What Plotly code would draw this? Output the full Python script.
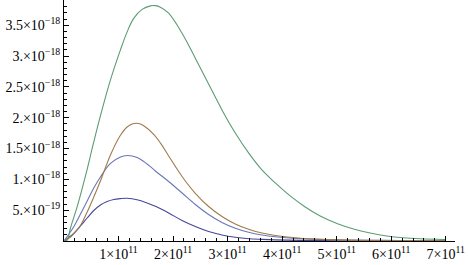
import numpy as np
import plotly.graph_objects as go

# x in units of 1e11, y in units of 1e-18
green_x = [0, 0.059, 0.119, 0.242, 0.394, 0.546, 0.687, 0.852, 1.035, 1.158, 1.278, 1.432, 1.584, 1.676, 1.767,
           1.919, 2.165, 2.408, 2.652, 2.897, 3.141, 3.385, 3.630, 3.874, 4.148, 4.423, 4.698, 5.004, 5.308,
           5.614, 5.919, 6.223, 6.529, 6.987]
green_y = [0, 0.016, 0.211, 0.557, 1.055, 1.607, 2.094, 2.614, 3.101, 3.393, 3.612, 3.758, 3.815, 3.818, 3.794,
           3.696, 3.372, 2.966, 2.549, 2.127, 1.753, 1.429, 1.153, 0.942, 0.731, 0.552, 0.406, 0.284, 0.195,
           0.130, 0.081, 0.052, 0.036, 0.024]

brown_x = [0, 0.119, 0.179, 0.302, 0.425, 0.546, 0.668, 0.852, 1.035, 1.158, 1.278, 1.370, 1.462, 1.645, 1.767,
           1.919, 2.165, 2.408, 2.652, 2.897, 3.141, 3.385, 3.630, 3.874, 4.332, 5.004, 6.163, 6.987]
brown_y = [0, 0.065, 0.122, 0.252, 0.471, 0.714, 0.974, 1.396, 1.715, 1.850, 1.905, 1.905, 1.870, 1.730, 1.591,
           1.380, 1.047, 0.774, 0.560, 0.398, 0.276, 0.190, 0.130, 0.089, 0.045, 0.019, 0.006, 0.002]

blue_x = [0, 0.179, 0.302, 0.425, 0.546, 0.668, 0.852, 1.035, 1.158, 1.341, 1.524, 1.676, 1.919, 2.165, 2.408,
          2.652, 2.897, 3.141, 3.385, 3.630, 3.874, 4.332, 5.004, 6.163, 6.987]
blue_y = [0, 0.232, 0.438, 0.649, 0.860, 1.039, 1.258, 1.364, 1.388, 1.356, 1.250, 1.136, 0.966, 0.779, 0.592,
          0.430, 0.300, 0.206, 0.141, 0.097, 0.068, 0.039, 0.019, 0.008, 0.003]

purple_x = [0, 0.179, 0.302, 0.425, 0.546, 0.668, 0.791, 0.912, 1.035, 1.158, 1.341, 1.524, 1.676, 1.919, 2.165,
            2.408, 2.652, 2.897, 3.141, 3.385, 3.630, 3.874, 4.332, 5.247, 6.987]
purple_y = [0, 0.122, 0.244, 0.373, 0.495, 0.584, 0.641, 0.674, 0.688, 0.693, 0.669, 0.617, 0.563, 0.455, 0.333,
            0.235, 0.154, 0.097, 0.060, 0.037, 0.026, 0.018, 0.010, 0.003, 0.0]

x_tick_vals = [1, 2, 3, 4, 5, 6, 7]
x_tick_text = ["1×10<sup>11</sup>", "2×10<sup>11</sup>", "3×10<sup>11</sup>", "4×10<sup>11</sup>",
               "5×10<sup>11</sup>", "6×10<sup>11</sup>", "7×10<sup>11</sup>"]
y_tick_vals = [0.5, 1.0, 1.5, 2.0, 2.5, 3.0, 3.5]
y_tick_text = ["5.×10<sup>−19</sup>", "1.×10<sup>−18</sup>", "1.5×10<sup>−18</sup>", "2.×10<sup>−18</sup>",
               "2.5×10<sup>−18</sup>", "3.×10<sup>−18</sup>", "3.5×10<sup>−18</sup>"]

XS, YS = 1e11, 1e-18

fig = go.Figure()
series = [
    (purple_x, purple_y, "#47479a"),
    (blue_x, blue_y, "#6a76b6"),
    (brown_x, brown_y, "#a07a4c"),
    (green_x, green_y, "#5c9c74"),
]
for xs, ys, col in series:
    fig.add_trace(go.Scatter(x=np.array(xs) * XS, y=np.array(ys) * YS, mode="lines",
                             line=dict(color=col, width=1.1, shape="spline", smoothing=1.0),
                             showlegend=False, hoverinfo="skip"))

axis_font = dict(family="Liberation Serif", size=14, color="#000")
fig.update_layout(
    width=468, height=265,
    font=dict(family="Liberation Serif", size=14, color="#000"),
    margin=dict(l=63.5, r=13, t=0, b=24),
    paper_bgcolor="white", plot_bgcolor="white",
    xaxis=dict(range=[0, 7.17 * XS], showgrid=False, zeroline=False, showline=True, linecolor="#000",
               linewidth=1, ticks="inside", ticklen=5, tickcolor="#000", tickwidth=1,
               tickvals=[v * XS for v in x_tick_vals], ticktext=x_tick_text, tickfont=axis_font,
               minor=dict(ticks="inside", ticklen=3, tickcolor="#000", dtick=0.2 * XS, tick0=0, showgrid=False)),
    yaxis=dict(range=[0, 3.91 * YS], showgrid=False, zeroline=False, showline=True, linecolor="#000",
               linewidth=1, ticks="inside", ticklen=5, tickcolor="#000", tickwidth=1,
               tickvals=[v * YS for v in y_tick_vals], ticktext=y_tick_text, tickfont=axis_font,
               minor=dict(ticks="inside", ticklen=3, tickcolor="#000", dtick=0.1 * YS, tick0=0, showgrid=False)),
)
fig.write_html("out.html")
